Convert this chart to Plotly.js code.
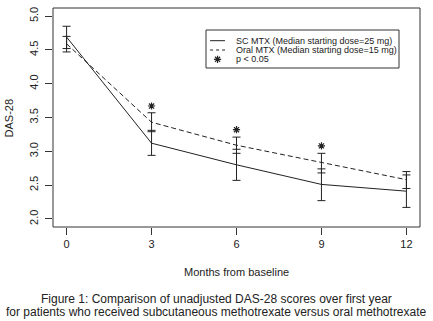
<!DOCTYPE html>
<html>
<head>
<meta charset="utf-8">
<script src="https://cdn.plot.ly/plotly-3.0.1.min.js"></script>
<style>
html,body{margin:0;padding:0;background:#fff;}
#chart{width:433px;height:321px;}
</style>
</head>
<body>
<div id="chart"></div>
<script>
// ---- data ----
var months = [0, 3, 6, 9, 12];
var scMean  = [4.69, 3.12, 2.80, 2.51, 2.41];
var scUpper = [4.85, 3.31, 3.03, 2.74, 2.65];
var scLower = [4.52, 2.94, 2.57, 2.27, 2.17];
var oralMean  = [4.59, 3.43, 3.09, 2.83, 2.58];
var oralUpper = [4.70, 3.57, 3.21, 2.97, 2.70];
var oralLower = [4.47, 3.29, 2.97, 2.68, 2.45];
var sigMonths = [3, 6, 9];
var sigY = [3.67, 3.32, 3.08];
var yTicks = [2.0, 2.5, 3.0, 3.5, 4.0, 4.5, 5.0];
var yTickText = ['2.0', '2.5', '3.0', '3.5', '4.0', '4.5', '5.0'];
var xTickText = ['0', '3', '6', '9', '12'];
var legendLabels = ['SC MTX (Median starting dose=25 mg)', 'Oral MTX (Median starting dose=15 mg)', 'p < 0.05'];
var xLabel = 'Months from baseline';
var yLabel = 'DAS-28';
var caption1 = 'Figure 1: Comparison of unadjusted DAS-28 scores over first year';
var caption2 = 'for patients who received subcutaneous methotrexate versus oral methotrexate';

function diff(a, b) { return a.map(function (v, i) { return +(v - b[i]).toFixed(4); }); }

var ink = '#222';
var font = '"Liberation Sans", Arial, Helvetica, sans-serif';

var traces = [
  {
    x: months, y: scMean, type: 'scatter', mode: 'lines',
    line: {color: ink, width: 1},
    error_y: {type: 'data', symmetric: false, array: diff(scUpper, scMean), arrayminus: diff(scMean, scLower),
              width: 4, thickness: 1, color: ink},
    showlegend: false, hoverinfo: 'skip'
  },
  {
    x: months, y: oralMean, type: 'scatter', mode: 'lines',
    line: {color: ink, width: 1, dash: '5px,3px'},
    error_y: {type: 'data', symmetric: false, array: diff(oralUpper, oralMean), arrayminus: diff(oralMean, oralLower),
              width: 4, thickness: 1, color: ink},
    showlegend: false, hoverinfo: 'skip'
  },
  {
    x: sigMonths, y: sigY, type: 'scatter', mode: 'markers',
    marker: {symbol: 'asterisk-open', size: 6, color: ink, line: {color: ink, width: 1.2}},
    showlegend: false, hoverinfo: 'skip'
  },
  // legend glyphs on a hidden overlay axis (0..1 box coordinates)
  {
    x: [0.428, 0.4687], y: [0.8507, 0.8507], xaxis: 'x2', yaxis: 'y2', type: 'scatter', mode: 'lines',
    line: {color: ink, width: 1}, showlegend: false, hoverinfo: 'skip'
  },
  {
    x: [0.428, 0.4687], y: [0.8082, 0.8082], xaxis: 'x2', yaxis: 'y2', type: 'scatter', mode: 'lines',
    line: {color: ink, width: 1, dash: '3px,3px'}, showlegend: false, hoverinfo: 'skip'
  },
  {
    x: [0.4483], y: [0.7657], xaxis: 'x2', yaxis: 'y2', type: 'scatter', mode: 'markers',
    marker: {symbol: 'asterisk-open', size: 6, color: ink, line: {color: ink, width: 1.2}},
    showlegend: false, hoverinfo: 'skip'
  }
];

var legendTextX = 0.4932;
var legendRows = [0.8507, 0.8082, 0.7657];

var annotations = [
  {text: xLabel, xref: 'paper', yref: 'paper', x: 0.5, y: -0.2055, xanchor: 'center', yanchor: 'middle',
   showarrow: false, font: {family: font, size: 11, color: ink}},
  {text: yLabel, xref: 'paper', yref: 'paper', x: -0.12, y: 0.5, xanchor: 'center', yanchor: 'middle',
   textangle: -90, showarrow: false, font: {family: font, size: 11, color: ink}},
  {text: caption1, xref: 'paper', yref: 'paper', x: 0.4455, y: -0.3288, xanchor: 'center', yanchor: 'middle',
   showarrow: false, font: {family: font, size: 12, color: ink}},
  {text: caption2, xref: 'paper', yref: 'paper', x: 0.4455, y: -0.388, xanchor: 'center', yanchor: 'middle',
   showarrow: false, font: {family: font, size: 12, color: ink}}
];
legendLabels.forEach(function (t, i) {
  annotations.push({text: t, xref: 'paper', yref: 'paper', x: legendTextX, y: legendRows[i],
    xanchor: 'left', yanchor: 'middle', showarrow: false, font: {family: font, size: 9, color: ink}});
});

var layout = {
  width: 433, height: 321,
  margin: {l: 53, r: 13, t: 8, b: 94, pad: 0},
  paper_bgcolor: '#fff', plot_bgcolor: '#fff',
  font: {family: font, size: 11, color: ink},
  showlegend: false,
  xaxis: {
    range: [-0.48, 12.48], tickvals: months, ticktext: xTickText,
    ticks: 'outside', ticklen: 7, tickwidth: 1, tickcolor: '#333',
    showgrid: false, zeroline: false, showline: false,
    tickfont: {family: font, size: 11, color: ink}, fixedrange: true
  },
  yaxis: {
    range: [1.88, 5.12], tickvals: yTicks, ticktext: yTickText, tickangle: -90,
    ticks: 'outside', ticklen: 7, tickwidth: 1, tickcolor: '#333', ticklabelstandoff: 3,
    showgrid: false, zeroline: false, showline: false,
    tickfont: {family: font, size: 11, color: ink}, fixedrange: true
  },
  xaxis2: {overlaying: 'x', range: [0, 1], visible: false, fixedrange: true},
  yaxis2: {overlaying: 'y', range: [0, 1], visible: false, fixedrange: true},
  shapes: [
    {type: 'rect', xref: 'paper', yref: 'paper', x0: 0, x1: 1, y0: 0, y1: 1,
     line: {color: '#333', width: 1}, fillcolor: 'rgba(0,0,0,0)'},
    {type: 'rect', xref: 'paper', yref: 'paper', x0: 0.4169, x1: 0.9428, y0: 0.726, y1: 0.8995,
     line: {color: '#333', width: 1}, fillcolor: 'rgba(0,0,0,0)'}
  ],
  annotations: annotations
};

Plotly.newPlot('chart', traces, layout, {displayModeBar: false, staticPlot: true});
</script>
</body>
</html>
